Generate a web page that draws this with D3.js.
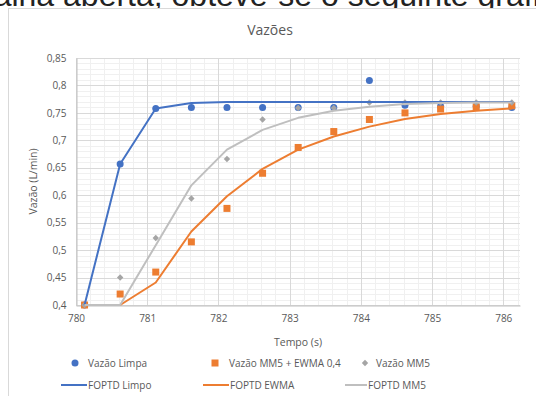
<!DOCTYPE html>
<html>
<head>
<meta charset="utf-8">
<script src="https://cdn.jsdelivr.net/npm/d3@7"></script>
<style>
body { margin: 0; background: #fff; overflow: hidden; }
svg { display: block; font-family: "Open Sans", sans-serif; }
</style>
</head>
<body>
<div id="chart"></div>
<script>

var width = 536,
    height = 396;

// data
var tempo = [780.12, 780.62, 781.12, 781.62, 782.12, 782.62, 783.12, 783.62, 784.12, 784.62, 785.12, 785.62, 786.12];
var vazaoLimpa = [0.40, 0.657, 0.758, 0.76, 0.76, 0.76, 0.76, 0.76, 0.809, 0.764, 0.762, 0.762, 0.76];
var vazaoEwma = [0.40, 0.42, 0.46, 0.515, 0.576, 0.64, 0.687, 0.716, 0.738, 0.750, 0.757, 0.761, 0.763];
var vazaoMM5 = [0.40, 0.45, 0.522, 0.594, 0.666, 0.738, 0.759, 0.759, 0.769, 0.769, 0.769, 0.769, 0.769];
var foptdLimpo = [0.40, 0.657, 0.758, 0.768, 0.770, 0.770, 0.770, 0.770, 0.770, 0.770, 0.770, 0.770, 0.770];
var foptdEwma = [0.40, 0.40, 0.441, 0.534, 0.598, 0.648, 0.683, 0.707, 0.725, 0.739, 0.748, 0.754, 0.758];
var foptdMM5 = [0.40, 0.40, 0.509, 0.618, 0.683, 0.719, 0.741, 0.754, 0.761, 0.766, 0.768, 0.769, 0.769];

var xTicks = [780, 781, 782, 783, 784, 785, 786];
var yTicks = [0.4, 0.45, 0.5, 0.55, 0.6, 0.65, 0.7, 0.75, 0.8, 0.85];

var blue = '#4472c4', orange = '#ed7d31', gray = '#a5a5a5', lightGray = '#bfbfbf', textColor = '#595959';

var svg = d3.select("#chart")
    .append("svg")
    .attr("width", width)
    .attr("height", height);

// surrounding page text (cut off at the top)
svg.append("text")
    .attr("x", -33)
    .attr("y", 6)
    .style("font-family", "Liberation Sans, Arial, sans-serif")
    .style("font-size", "32px")
    .style("fill", "#222")
    .text("malha aberta, obteve-se o seguinte gráfico:");

// chart frame
svg.append("rect")
    .attr("x", 8.5)
    .attr("y", 8.5)
    .attr("width", 600)
    .attr("height", 500)
    .style("fill", "#fff")
    .style("stroke", "#d9d9d9");

var plotLeft = 76, plotRight = 520, plotTop = 58, plotBottom = 305;

var x = d3.scaleLinear().domain([780, 786.235]).range([plotLeft, plotRight]);
var y = d3.scaleLinear().domain([0.4, 0.85]).range([plotBottom, plotTop]);

var fmt = function (d) { return d3.format(".2~f")(d).replace(".", ","); };

var grid = svg.append("g");

// minor gridlines
grid.selectAll("line.minorY")
    .data(d3.range(40, 86).map(function (d) { return d / 100; }))
    .enter().append("line")
    .attr("x1", plotLeft).attr("x2", plotRight)
    .attr("y1", function (d) { return Math.round(y(d)) + 0.5; })
    .attr("y2", function (d) { return Math.round(y(d)) + 0.5; })
    .style("stroke", "#f0f0f0");

grid.selectAll("line.minorX")
    .data(d3.range(0, 32).map(function (d) { return 780 + d * 0.2; }))
    .enter().append("line")
    .attr("y1", plotTop).attr("y2", plotBottom)
    .attr("x1", function (d) { return Math.round(x(d)) + 0.5; })
    .attr("x2", function (d) { return Math.round(x(d)) + 0.5; })
    .style("stroke", "#f0f0f0");

// major gridlines
grid.selectAll("line.majorY")
    .data(yTicks)
    .enter().append("line")
    .attr("x1", plotLeft).attr("x2", plotRight)
    .attr("y1", function (d) { return Math.round(y(d)) + 0.5; })
    .attr("y2", function (d) { return Math.round(y(d)) + 0.5; })
    .style("stroke", "#d9d9d9");

grid.selectAll("line.majorX")
    .data(xTicks)
    .enter().append("line")
    .attr("y1", plotTop).attr("y2", plotBottom)
    .attr("x1", function (d) { return Math.round(x(d)) + 0.5; })
    .attr("x2", function (d) { return Math.round(x(d)) + 0.5; })
    .style("stroke", "#d9d9d9");

// axes
var xAxis = svg.append("g")
    .attr("transform", "translate(0," + (plotBottom + 0.5) + ")")
    .call(d3.axisBottom(x).tickValues(xTicks).tickSize(0).tickPadding(9).tickFormat(d3.format("d")));
var yAxis = svg.append("g")
    .attr("transform", "translate(" + (plotLeft + 0.5) + ",0)")
    .call(d3.axisLeft(y).tickValues(yTicks).tickSize(0).tickPadding(10).tickFormat(fmt));

[xAxis, yAxis].forEach(function (a) {
    a.select(".domain").style("stroke", "#bfbfbf");
    a.selectAll("text")
        .style("font-family", "Open Sans, sans-serif")
        .style("font-size", "10px")
        .style("fill", textColor);
});

// titles
svg.append("text")
    .attr("x", 270)
    .attr("y", 35)
    .attr("text-anchor", "middle")
    .style("font-size", "14px")
    .style("fill", textColor)
    .text("Vazões");

svg.append("text")
    .attr("x", 298)
    .attr("y", 346)
    .attr("text-anchor", "middle")
    .style("font-size", "10.5px")
    .style("fill", textColor)
    .text("Tempo (s)");

svg.append("text")
    .attr("transform", "translate(37," + ((plotTop + plotBottom) / 2) + ")rotate(-90)")
    .attr("text-anchor", "middle")
    .style("font-size", "10.5px")
    .style("fill", textColor)
    .text("Vazão (L/min)");

// marks
var plot = svg.append("g");

function pts(values) {
    return values.map(function (v, i) { return [tempo[i], v]; });
}

var line = d3.line()
    .x(function (d) { return x(d[0]); })
    .y(function (d) { return y(d[1]); });

plot.selectAll("circle.limpa")
    .data(pts(vazaoLimpa))
    .enter().append("circle")
    .attr("cx", function (d) { return x(d[0]); })
    .attr("cy", function (d) { return y(d[1]); })
    .attr("r", 3.5)
    .style("fill", blue);

plot.selectAll("rect.ewma")
    .data(pts(vazaoEwma))
    .enter().append("rect")
    .attr("x", function (d) { return x(d[0]) - 3.5; })
    .attr("y", function (d) { return y(d[1]) - 3.5; })
    .attr("width", 7)
    .attr("height", 7)
    .style("fill", orange);

var diamond = d3.symbol().type(d3.symbolDiamond2).size(26);

plot.selectAll("path.mm5")
    .data(pts(vazaoMM5))
    .enter().append("path")
    .attr("d", diamond)
    .attr("transform", function (d) { return "translate(" + x(d[0]) + "," + y(d[1]) + ")"; })
    .style("fill", gray);

[[foptdLimpo, blue], [foptdEwma, orange], [foptdMM5, lightGray]].forEach(function (s) {
    plot.append("path")
        .datum(pts(s[0]))
        .attr("d", line)
        .style("fill", "none")
        .style("stroke", s[1])
        .style("stroke-width", 2)
        .style("stroke-linejoin", "round");
});

// legend
var legendMarkers = [
    { label: "Vazão Limpa", type: "circle", color: blue, mx: 75, tx: 88 },
    { label: "Vazão MM5 + EWMA 0,4", type: "square", color: orange, mx: 215, tx: 229 },
    { label: "Vazão MM5", type: "diamond", color: gray, mx: 365, tx: 376 }
];
var legendLines = [
    { label: "FOPTD Limpo", color: blue, x1: 61, x2: 87 },
    { label: "FOPTD EWMA", color: orange, x1: 203, x2: 229 },
    { label: "FOPTD MM5", color: lightGray, x1: 345, x2: 367 }
];

var leg = svg.append("g");
var row1 = 363, row2 = 385;

legendMarkers.forEach(function (d) {
    if (d.type === "circle") {
        leg.append("circle").attr("cx", d.mx).attr("cy", row1).attr("r", 3.5).style("fill", d.color);
    } else if (d.type === "square") {
        leg.append("rect").attr("x", d.mx - 3.5).attr("y", row1 - 3.5).attr("width", 7).attr("height", 7).style("fill", d.color);
    } else {
        leg.append("path").attr("d", diamond).attr("transform", "translate(" + d.mx + "," + row1 + ")").style("fill", d.color);
    }
    leg.append("text")
        .attr("x", d.tx)
        .attr("y", row1)
        .attr("dy", "0.35em")
        .style("font-size", "10px")
        .style("fill", textColor)
        .text(d.label);
});

legendLines.forEach(function (d) {
    leg.append("line")
        .attr("x1", d.x1).attr("x2", d.x2)
        .attr("y1", row2).attr("y2", row2)
        .style("stroke", d.color)
        .style("stroke-width", 2);
    leg.append("text")
        .attr("x", d.x2 + 1)
        .attr("y", row2)
        .attr("dy", "0.35em")
        .style("font-size", "10px")
        .style("fill", textColor)
        .text(d.label);
});

</script>
</body>
</html>
